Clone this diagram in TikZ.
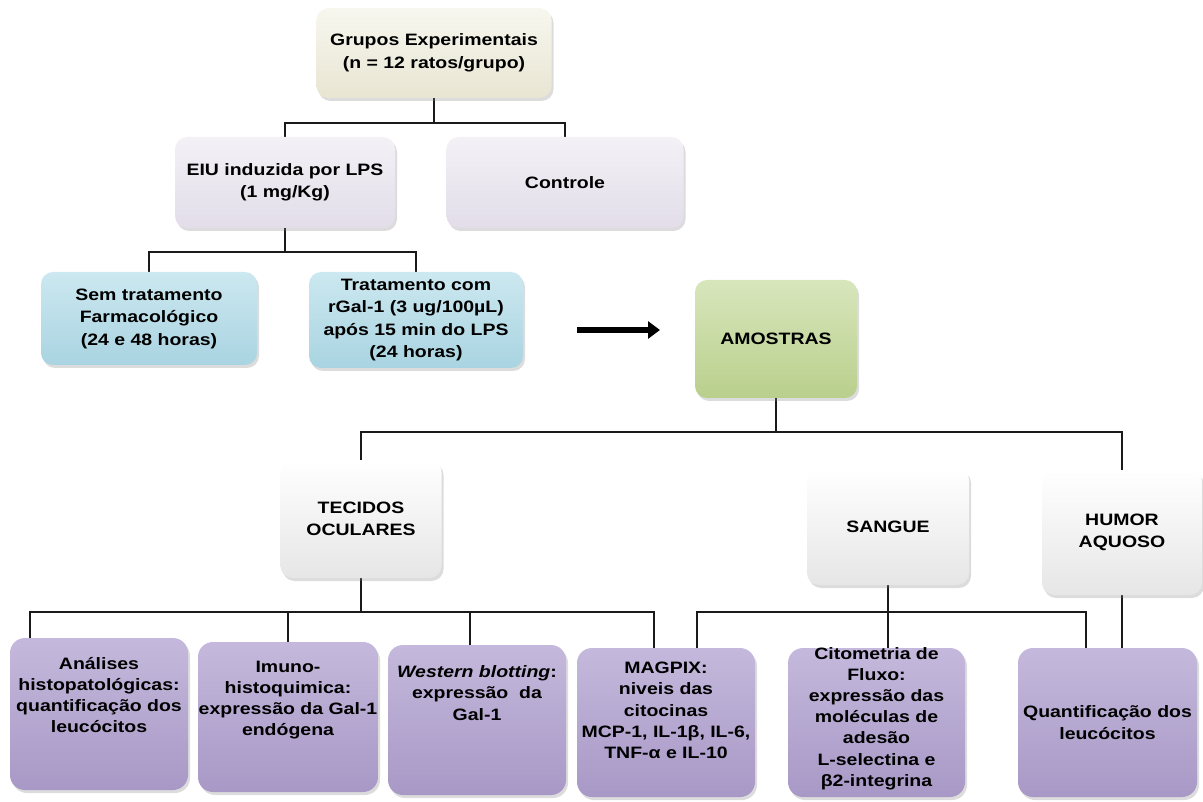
\documentclass[tikz,border=0pt]{standalone}
\usepackage{fontspec}
\setmainfont{Liberation Sans}[FakeStretch=1.18]
\usetikzlibrary{shadows,backgrounds,arrows.meta}
\definecolor{cbeigeT}{HTML}{F8F7EF}
\definecolor{cbeigeB}{HTML}{E8E5D2}
\definecolor{clavT}{HTML}{F3F1F6}
\definecolor{clavB}{HTML}{E2DDE9}
\definecolor{cblueT}{HTML}{CCE8F0}
\definecolor{cblueB}{HTML}{A9D4E1}
\definecolor{cgreenT}{HTML}{D8E6BC}
\definecolor{cgreenB}{HTML}{B9CF8C}
\definecolor{cwhiteT}{HTML}{FFFFFF}
\definecolor{cwhiteB}{HTML}{E6E6E6}
\definecolor{cpurT}{HTML}{C4B9DC}
\definecolor{cpurB}{HTML}{A898C6}
\definecolor{cline}{HTML}{1A1A1A}
\begin{document}
\begin{tikzpicture}[x=1pt,y=-1pt,
  box/.style={rounded corners=12pt, align=center, inner sep=2pt,
    font=\bfseries\fontsize{16.5}{22.5}\selectfont,
    drop shadow={opacity=0.28, shadow xshift=2pt, shadow yshift=-3pt}},
  beige/.style={box, top color=cbeigeT, bottom color=cbeigeB},
  lav/.style={box, top color=clavT, bottom color=clavB},
  blue/.style={box, top color=cblueT, bottom color=cblueB},
  green/.style={box, top color=cgreenT, bottom color=cgreenB},
  white/.style={box, top color=cwhiteT, bottom color=cwhiteB},
  purple/.style={box, rounded corners=15pt, top color=cpurT, bottom color=cpurB,
    font=\bfseries\fontsize{16.5}{21.2}\selectfont},
  ptext/.style={align=center, font=\bfseries\fontsize{16.5}{21.2}\selectfont, inner sep=0pt},
  conn/.style={draw=cline, line width=2pt},
  bigarrow/.style={draw=black, line width=6pt, -{Triangle[length=12pt,width=17pt]}}
]
\useasboundingbox (0,0) rectangle (1203,802);

% row 1
\node[beige, minimum width=235pt, minimum height=90pt] (top) at (434,53)
  {Grupos Experimentais\\(n = 12 ratos/grupo)};
% row 2
\node[lav, minimum width=220pt, minimum height=91pt] (eiu) at (285,182.5)
  {EIU induzida por LPS\\(1 mg/Kg)};
\node[lav, minimum width=237pt, minimum height=91pt] (ctrl) at (565,182.5)
  {Controle};
% row 3
\node[blue, minimum width=216pt, minimum height=93pt] (sem) at (149,318.5)
  {Sem tratamento\\Farmacológico\\(24 e 48 horas)};
\node[blue, minimum width=214pt, minimum height=96pt] (trat) at (416,320)
  {Tratamento com\\rGal-1 (3 ug/100µL)\\após 15 min do LPS\\(24 horas)};
\node[green, minimum width=162pt, minimum height=118pt] (amo) at (776,339)
  {AMOSTRAS};
% row 4
\node[white, minimum width=161pt, minimum height=118pt] (tec) at (361,519)
  {TECIDOS\\OCULARES};
\node[white, minimum width=162pt, minimum height=117pt] (san) at (888,526.5)
  {SANGUE};
\node[white, minimum width=160pt, minimum height=125pt] (hum) at (1122,532.5)
  {HUMOR\\AQUOSO};
% row 5
\node[purple, minimum width=178pt, minimum height=152pt,
  label={[ptext, yshift=19pt]center:Análises\\histopatológicas:\\quantificação dos\\leucócitos}]
  (b1) at (99,714) {};
\node[purple, minimum width=180pt, minimum height=150pt,
  label={[ptext, yshift=17pt]center:Imuno-\\histoquimica:\\expressão da Gal-1\\endógena}]
  (b2) at (288,717) {};
\node[purple, minimum width=178pt, minimum height=150pt,
  label={[ptext, yshift=27pt]center:\textit{Western blotting}:\\expressão~ da\\Gal-1}]
  (b3) at (477,720) {};
\node[purple, minimum width=178pt, minimum height=149pt,
  label={[ptext, yshift=12pt]center:MAGPIX:\\niveis das\\citocinas\\MCP-1, IL-1β, IL-6,\\TNF-α e IL-10}]
  (b4) at (666,722.5) {};
\node[purple, minimum width=177pt, minimum height=149pt,
  label={[ptext, yshift=4pt]center:Citometria de\\Fluxo:\\expressão das\\moléculas de\\adesão\\L-selectina e\\β2-integrina}]
  (b5) at (876.5,722.5) {};
\node[purple, minimum width=179pt, minimum height=149pt] (b6) at (1107.5,722.5)
  {Quantificação dos\\leucócitos};

% arrow
\coordinate (a1) at (577,330);
\coordinate (a2) at (660,330);
\draw[bigarrow] (a1) -- (a2);

% connectors
\begin{scope}[on background layer]
\draw[conn] (top.south) -- ++(0,25) coordinate (h1);
\draw[conn] (eiu.north) |- (h1) -| (ctrl.north);
\draw[conn] (eiu.south) -- ++(0,24) coordinate (h2);
\draw[conn] (sem.north) |- (h2) -| (trat.north);
\draw[conn] (amo.south) -- ++(0,34) coordinate (h3);
\draw[conn] (tec.north) |- (h3) -| (hum.north);
\draw[conn] (tec.south) -- ++(0,34) coordinate (h4);
\draw[conn] (b1.north -| 30,0) |- (h4) -| (b4.north -| 654,0);
\draw[conn] (b2.north) -- (b2.north |- h4);
\draw[conn] (b3.north -| 470,0) -- (h4 -| 470,0);
\draw[conn] (san.south) -- (san.south |- b5.north);
\draw[conn] (b4.north -| 697,0) |- (h4 -| san.south) -| (b6.north -| 1086,0);
\draw[conn] (hum.south) -- (hum.south |- b6.north);
\end{scope}
\end{tikzpicture}
\end{document}
